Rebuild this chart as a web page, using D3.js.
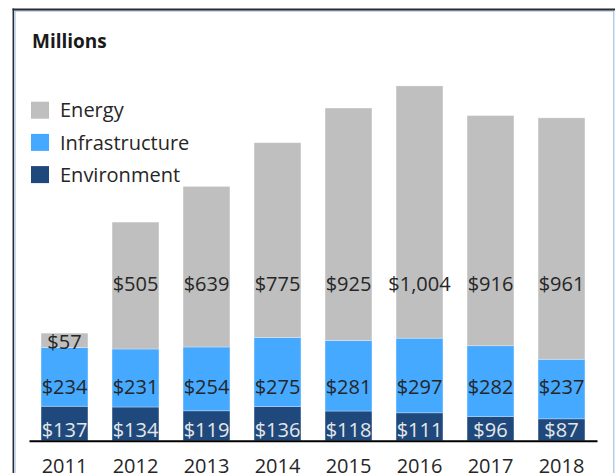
<!DOCTYPE html>
<html>
<head>
<meta charset="utf-8">
<script src="https://cdn.jsdelivr.net/npm/d3@7"></script>
<style>
  html, body { margin: 0; padding: 0; background: #fff; }
  svg { display: block; font-family: "Open Sans", sans-serif; }
</style>
</head>
<body>
<div id="chart"></div>
<script>
// chart data (USD millions)
const years = ["2011", "2012", "2013", "2014", "2015", "2016", "2017", "2018"];
const environment = [137, 134, 119, 136, 118, 111, 96, 87];
const infrastructure = [234, 231, 254, 275, 281, 297, 282, 237];
const energy = [57, 505, 639, 775, 925, 1004, 916, 961];

const seriesKeys = ["environment", "infrastructure", "energy"];
const legendKeys = ["energy", "infrastructure", "environment"];
const seriesNames = {energy: "Energy", infrastructure: "Infrastructure", environment: "Environment"};
const colors = {energy: "#BFBFBF", infrastructure: "#45A9FF", environment: "#1F497D"};
const labelColors = {energy: "#262626", infrastructure: "#262626", environment: "#E6E6E6"};

// build rows for the stack layout
const rows = years.map((y, i) => ({
    year: y,
    environment: environment[i],
    infrastructure: infrastructure[i],
    energy: energy[i]
}));

const width = 615, height = 473;

const svg = d3.select("#chart")
  .append("svg")
    .attr("width", width)
    .attr("height", height);

// frame around the chart area
svg.append("rect")
    .attr("x", 15).attr("y", 11)
    .attr("width", 598.8).attr("height", 480)
    .attr("fill", "none")
    .attr("stroke", "#8FB4E3")
    .attr("stroke-width", 1);
svg.append("line")
    .attr("x1", 12.5).attr("x2", 615).attr("y1", 9.5).attr("y2", 9.5)
    .attr("stroke", "#2B2B2B").attr("stroke-width", 2);
svg.append("line")
    .attr("x1", 13.3).attr("x2", 13.3).attr("y1", 8.5).attr("y2", 473)
    .attr("stroke", "#2B2B2B").attr("stroke-width", 1.5);

// scales
const xScale = d3.scaleBand()
    .domain(years)
    .range([29, 597])
    .paddingInner(0.34)
    .paddingOuter(0.17);
const yScale = d3.scaleLinear()
    .domain([0, 1600])
    .range([440.7, 38.7]);

const stacked = d3.stack().keys(seriesKeys)(rows);

// bars
const layers = svg.append("g")
  .selectAll("g")
  .data(stacked)
  .enter()
  .append("g")
    .attr("fill", d => colors[d.key]);

layers.selectAll("rect")
  .data(d => d)
  .enter()
  .append("rect")
    .attr("x", d => xScale(d.data.year))
    .attr("y", d => yScale(d[1]))
    .attr("width", xScale.bandwidth())
    .attr("height", d => yScale(d[0]) - yScale(d[1]))
    .attr("stroke", "rgba(255,255,255,0.35)")
    .attr("stroke-width", 0.8);

// data labels sit on fixed rows, except when the segment is too short
const rowOffset = {environment: 4, infrastructure: 47, energy: 150};
svg.append("g")
  .selectAll("g")
  .data(stacked)
  .enter()
  .append("g")
    .attr("fill", d => labelColors[d.key])
    .each(function(series) {
        d3.select(this).selectAll("text")
          .data(series)
          .enter()
          .append("text")
            .attr("x", d => xScale(d.data.year) + xScale.bandwidth() / 2)
            .attr("y", d => {
                const row = yScale(0) - rowOffset[series.key];
                const top = yScale(d[1]);
                if (row - 14 < top) return (yScale(d[0]) + top) / 2 + 8.5;
                return row;
            })
            .attr("text-anchor", "middle")
            .attr("font-size", 20)
            .text(d => "$" + d3.format(",")(d.data[series.key]));
    });

// x axis
const xAxis = svg.append("g")
    .attr("transform", "translate(0," + yScale(0) + ")")
    .call(d3.axisBottom(xScale).tickSize(0).tickSizeOuter(0).tickPadding(18));
xAxis.select(".domain")
    .attr("stroke", "#000")
    .attr("stroke-width", 2);
xAxis.selectAll("text")
    .attr("font-family", "Open Sans, sans-serif")
    .attr("font-size", 20)
    .attr("fill", "#262626");

// title
svg.append("text")
    .attr("x", 32).attr("y", 47.5)
    .attr("font-size", 19)
    .attr("font-weight", "bold")
    .attr("fill", "#1A1A1A")
    .text("Millions");

// legend
const legend = svg.append("g")
  .selectAll("g")
  .data(legendKeys)
  .enter()
  .append("g")
    .attr("transform", (d, i) => "translate(31," + (101.7 + i * 32.2) + ")");
legend.append("rect")
    .attr("width", 18).attr("height", 17)
    .attr("fill", d => colors[d]);
legend.append("text")
    .attr("x", 29).attr("y", 15.6)
    .attr("font-size", 20)
    .attr("fill", "#262626")
    .text(d => seriesNames[d]);
</script>
</body>
</html>
